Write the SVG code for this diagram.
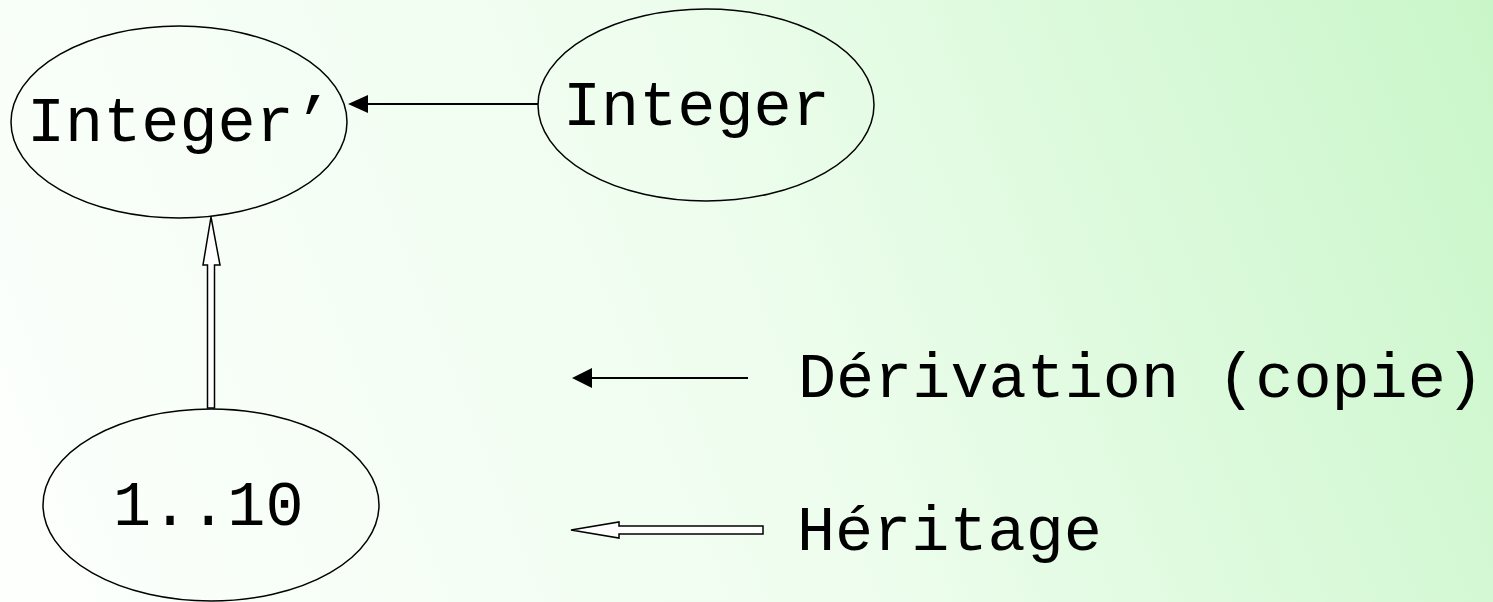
<svg xmlns="http://www.w3.org/2000/svg" width="1493" height="602" viewBox="0 0 1493 602">
<style>
.node{fill:none;stroke:#000;stroke-width:1.5}
.lbl{font-family:"Liberation Mono","Courier New",monospace;font-size:63.5px;fill:#000}
.ln{stroke:#000;stroke-width:2;fill:none}
.hollow{fill:#fff;stroke:#000;stroke-width:1.5;stroke-linejoin:miter}
</style>
<defs>
<linearGradient id="bg" gradientUnits="userSpaceOnUse" x1="0" y1="602" x2="1493" y2="0">
<stop offset="0" stop-color="#fdfffd"/>
<stop offset="0.5" stop-color="#eefdee"/>
<stop offset="1" stop-color="#c9f6c9"/>
</linearGradient>
</defs>
<rect width="1493" height="602" fill="url(#bg)"/>
<g id="integer-prime">
<ellipse class="node" cx="179" cy="122" rx="168" ry="96"/>
<text class="lbl" x="27" y="141">Integer’</text>
</g>
<g id="integer">
<ellipse class="node" cx="706" cy="105" rx="168" ry="96"/>
<text class="lbl" x="563" y="125">Integer</text>
</g>
<g id="range">
<ellipse class="node" cx="211" cy="505" rx="168" ry="96"/>
<text class="lbl" x="113" y="525">1..10</text>
</g>
<g id="connectors">
<line class="ln" x1="538" y1="104" x2="366" y2="104"/>
<polygon points="348,104 368,95 368,113" fill="#000"/>
<polygon class="hollow" points="211,217 220,265 214.5,265 214.5,408 207.5,408 207.5,265 203,265"/>
</g>
<g id="legend">
<line class="ln" x1="748" y1="378" x2="590" y2="378"/>
<polygon points="572,378 592,368 592,388" fill="#000"/>
<polygon class="hollow" points="571,530 619,522 619,526 763,526 763,534 619,534 619,538"/>
<text class="lbl" x="798" y="397">Dérivation (copie)</text>
<text class="lbl" x="797" y="550">Héritage</text>
</g>
</svg>
